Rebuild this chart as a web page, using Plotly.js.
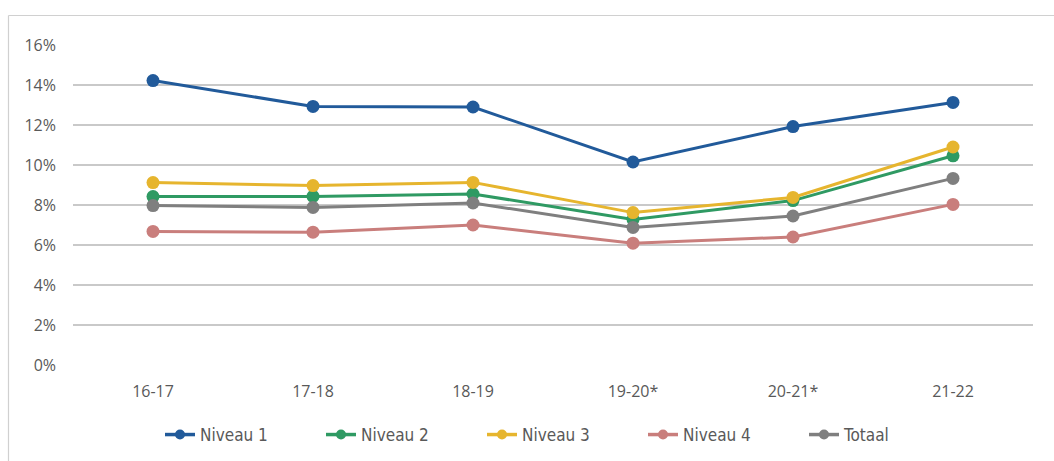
<!DOCTYPE html>
<html>
<head>
<meta charset="utf-8">
<script src="https://cdn.plot.ly/plotly-3.0.1.min.js"></script>
<style>html,body{margin:0;padding:0;background:#fff;}#chart{width:1054px;height:461px;}</style>
</head>
<body>
<div id="chart"></div>
<script>
const categories = ["16-17", "17-18", "18-19", "19-20*", "20-21*", "21-22"];
const niveau1 = [0.1422, 0.1293, 0.1290, 0.1015, 0.1192, 0.1313];
const niveau2 = [0.0842, 0.0843, 0.0855, 0.0728, 0.0822, 0.1046];
const niveau3 = [0.0912, 0.0897, 0.0913, 0.0762, 0.0838, 0.1090];
const niveau4 = [0.0668, 0.0664, 0.0700, 0.0609, 0.0640, 0.0803];
const totaal  = [0.0797, 0.0788, 0.0810, 0.0688, 0.0745, 0.0933];
const seriesNames = ["Niveau 1", "Niveau 2", "Niveau 3", "Niveau 4", "Totaal"];
const seriesColors = ["#215a9a", "#2f9a63", "#e6b52e", "#c97e7c", "#7f7f7f"];
const seriesValues = [niveau1, niveau2, niveau3, niveau4, totaal];

const traces = seriesValues.map((vals, i) => ({
  type: "scatter",
  mode: "lines+markers",
  name: seriesNames[i],
  x: categories,
  y: vals,
  line: {color: seriesColors[i], width: 3},
  marker: {color: seriesColors[i], size: 13},
  showlegend: false,
  hoverinfo: "x+y+name"
}));
// legend entries (smaller markers, as in the reference legend)
seriesNames.forEach((name, i) => traces.push({
  type: "scatter",
  mode: "lines+markers",
  name: name,
  x: [null], y: [null],
  line: {color: seriesColors[i], width: 3.5},
  marker: {color: seriesColors[i], size: 10},
  showlegend: true,
  hoverinfo: "skip"
}));

const W = 1054, H = 461;
const L = 73, R = 1033, T = 45, B = 365;
const px = v => (v - L) / (R - L);
const py = v => (B - v) / (B - T);

const layout = {
  width: W, height: H,
  margin: {l: L, r: W - R, t: T, b: H - B},
  paper_bgcolor: "#ffffff",
  plot_bgcolor: "#ffffff",
  showlegend: true,
  legend: {
    orientation: "h",
    xref: "container", yref: "container",
    x: 160 / W, xanchor: "left",
    y: 1 - 435 / H, yanchor: "middle",
    font: {family: "Liberation Sans Narrow, DejaVu Sans Condensed, sans-serif", size: 17, color: "#595959"},
    entrywidth: 116, entrywidthmode: "pixels", itemgap: 0,
    traceorder: "normal"
  },
  xaxis: {
    type: "category",
    range: [-0.5, 5.5],
    showgrid: false, zeroline: false, showline: false,
    ticks: "", ticklabelstandoff: 15,
    tickfont: {family: "Open Sans, Noto Sans, sans-serif", size: 16, color: "#595959"},
    fixedrange: true
  },
  yaxis: {
    range: [0, 0.16],
    dtick: 0.02,
    tickformat: ".0%",
    showgrid: true, gridcolor: "#c9c9c9", gridwidth: 1.6,
    zeroline: false, showline: false,
    ticks: "", ticklabelstandoff: 16,
    tickfont: {family: "Open Sans, Noto Sans, sans-serif", size: 16, color: "#595959"},
    fixedrange: true
  },
  shapes: [
    {type: "line", xref: "paper", yref: "paper", x0: px(8.5), x1: px(1054), y0: py(15.5), y1: py(15.5), line: {color: "#d0d0d0", width: 1.2}},
    {type: "line", xref: "paper", yref: "paper", x0: px(8.5), x1: px(8.5), y0: py(15.5), y1: py(461), line: {color: "#d0d0d0", width: 1.2}}
  ]
};

Plotly.newPlot("chart", traces, layout, {displayModeBar: false, staticPlot: true});
</script>
</body>
</html>
